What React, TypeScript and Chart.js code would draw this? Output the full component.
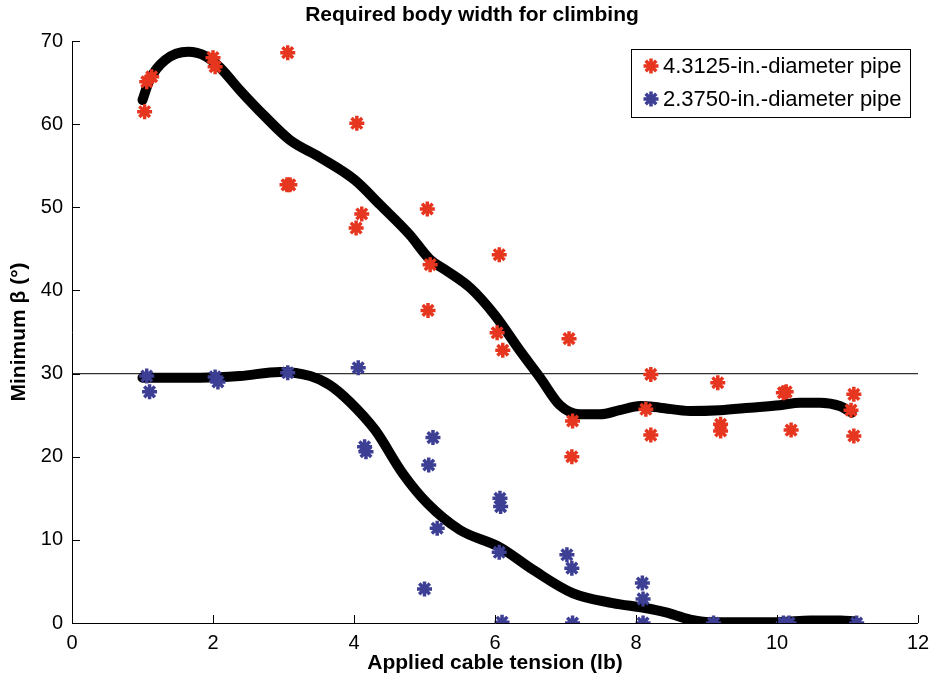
import React, { useEffect, useRef } from "react";
import { Chart, registerables } from "chart.js";

Chart.register(...registerables);

const chartTitle = "Required body width for climbing";
const xTitle = "Applied cable tension (lb)";
const yTitle = "Minimum β (°)";
const legendLabels = ["4.3125-in.-diameter pipe", "2.3750-in.-diameter pipe"];
const xTicks = [0, 2, 4, 6, 8, 10, 12];
const yTicks = [0, 10, 20, 30, 40, 50, 60, 70];
const thresholdY = 30;

const redX = [1.03, 1.06, 1.13, 2.0, 2.03, 3.06, 3.05, 3.09, 4.04, 4.03, 4.11, 5.04, 5.08, 5.05, 6.06, 6.03, 6.11, 7.05, 7.1, 7.09, 8.21, 8.14, 8.21, 9.16, 9.2, 9.2, 10.09, 10.13, 10.2, 11.09, 11.05, 11.09];
const redY = [61.5, 65.1, 65.7, 68.0, 66.9, 68.6, 52.7, 52.7, 60.1, 47.5, 49.2, 49.8, 43.1, 37.6, 44.3, 34.9, 32.8, 34.2, 24.3, 20.0, 29.9, 25.7, 22.6, 28.9, 23.9, 23.1, 27.7, 27.8, 23.2, 27.5, 25.6, 22.5];

const blueX = [1.06, 1.1, 2.03, 2.07, 3.06, 4.06, 4.17, 4.15, 5.12, 5.06, 5.18, 5.0, 6.07, 6.08, 6.06, 6.1, 7.02, 7.09, 7.1, 8.09, 8.1, 8.1, 9.1, 10.09, 10.17, 11.13];
const blueY = [29.7, 27.8, 29.6, 29.0, 30.1, 30.7, 20.6, 21.2, 22.3, 19.0, 11.4, 4.1, 15.0, 14.0, 8.5, 0.1, 8.2, 6.6, 0.0, 4.8, 2.9, 0.0, 0.0, 0.0, 0.0, 0.0];

const upperX = [1.0, 1.1, 1.32, 1.65, 1.89, 2.1, 2.38, 2.74, 3.09, 3.52, 4.01, 4.37, 4.79, 5.08, 5.29, 5.65, 6.0, 6.35, 6.64, 6.92, 7.2, 7.49, 7.77, 8.06, 8.34, 8.77, 9.19, 9.62, 10.04, 10.33, 10.61, 10.89, 11.06];
const upperY = [62.9, 65.3, 67.7, 68.7, 68.2, 66.8, 64.1, 60.9, 58.1, 56.0, 53.3, 50.3, 46.7, 43.7, 42.5, 40.3, 37.0, 32.8, 29.5, 26.2, 25.1, 25.1, 25.6, 26.1, 25.9, 25.5, 25.6, 25.9, 26.2, 26.5, 26.5, 26.1, 25.3];

const lowerX = [1.0, 1.82, 2.38, 2.95, 3.38, 3.66, 3.94, 4.3, 4.69, 5.04, 5.5, 6.07, 6.54, 7.1, 7.67, 8.13, 8.41, 8.77, 9.05, 10.04, 10.47, 10.9, 11.1];
const lowerY = [29.5, 29.5, 29.7, 30.2, 29.7, 28.6, 26.6, 23.2, 18.0, 14.4, 11.2, 9.1, 6.4, 3.6, 2.4, 1.8, 1.3, 0.4, 0.1, 0.1, 0.3, 0.3, 0.2];

const RED = "#e6361f";
const BLUE = "#3d3f95";
const FONT = '"Liberation Sans", Arial, Helvetica, sans-serif';

function zip(xs: number[], ys: number[]) {
  return xs.map((x, i) => ({ x, y: ys[i] }));
}

function drawStar(ctx: CanvasRenderingContext2D, x: number, y: number, r: number, color: string, w: number) {
  ctx.save();
  ctx.strokeStyle = color;
  ctx.lineWidth = w;
  ctx.beginPath();
  for (let k = 0; k < 4; k++) {
    const a = (k * Math.PI) / 4;
    ctx.moveTo(x - r * Math.cos(a), y - r * Math.sin(a));
    ctx.lineTo(x + r * Math.cos(a), y + r * Math.sin(a));
  }
  ctx.stroke();
  ctx.restore();
}

const decorPlugin = {
  id: "decor",
  afterDatasetsDraw(chart: any) {
    const { ctx, chartArea, scales } = chart;
    const xs = scales.x;
    const ys = scales.y;
    ctx.save();
    // axes
    ctx.strokeStyle = "#000";
    ctx.lineWidth = 1;
    ctx.beginPath();
    ctx.moveTo(chartArea.left + 0.5, chartArea.top);
    ctx.lineTo(chartArea.left + 0.5, chartArea.bottom + 0.5);
    ctx.lineTo(chartArea.right, chartArea.bottom + 0.5);
    ctx.stroke();
    // inward ticks
    ctx.beginPath();
    xTicks.forEach((t) => {
      const px = Math.round(xs.getPixelForValue(t)) + 0.5;
      ctx.moveTo(px, chartArea.bottom);
      ctx.lineTo(px, chartArea.bottom - 8);
    });
    yTicks.forEach((t) => {
      const py = Math.round(ys.getPixelForValue(t)) + 0.5;
      ctx.moveTo(chartArea.left, py);
      ctx.lineTo(chartArea.left + 8, py);
    });
    ctx.stroke();
    // title
    ctx.fillStyle = "#000";
    ctx.font = "bold 21px " + FONT;
    ctx.textAlign = "center";
    ctx.textBaseline = "middle";
    ctx.fillText(chartTitle, 472, 15);
    // legend
    ctx.fillStyle = "#fff";
    ctx.fillRect(631, 49, 279, 68);
    ctx.strokeStyle = "#000";
    ctx.strokeRect(631.5, 49.5, 279, 68);
    const colors = [RED, BLUE];
    legendLabels.forEach((lab, i) => {
      const cy = 66 + i * 33;
      drawStar(ctx, 651, cy, 7.5, colors[i], 3.5);
      ctx.fillStyle = "#000";
      ctx.font = "22px " + FONT;
      ctx.textAlign = "left";
      ctx.textBaseline = "middle";
      ctx.fillText(lab, 663, cy + 1);
    });
    ctx.restore();
  },
};

export default function App() {
  const canvasRef = useRef<HTMLCanvasElement | null>(null);

  useEffect(() => {
    if (!canvasRef.current) return;
    const chart = new Chart(canvasRef.current, {
      type: "scatter",
      data: {
        datasets: [
          {
            label: legendLabels[0],
            data: zip(redX, redY),
            pointStyle: "star",
            pointRadius: 7.5,
            pointBorderWidth: 3.5,
            borderColor: RED,
            backgroundColor: RED,
            order: 0,
          },
          {
            label: legendLabels[1],
            data: zip(blueX, blueY),
            pointStyle: "star",
            pointRadius: 7.5,
            pointBorderWidth: 3.5,
            borderColor: BLUE,
            backgroundColor: BLUE,
            order: 0,
          },
          {
            label: "fit-upper",
            data: zip(upperX, upperY),
            showLine: true,
            pointRadius: 0,
            borderColor: "#000",
            borderWidth: 10,
            borderCapStyle: "round",
            borderJoinStyle: "round",
            cubicInterpolationMode: "monotone",
            order: 1,
          } as any,
          {
            label: "fit-lower",
            data: zip(lowerX, lowerY),
            showLine: true,
            pointRadius: 0,
            borderColor: "#000",
            borderWidth: 10,
            borderCapStyle: "round",
            borderJoinStyle: "round",
            cubicInterpolationMode: "monotone",
            order: 1,
          } as any,
          {
            label: "threshold",
            data: [
              { x: 0, y: thresholdY },
              { x: 12, y: thresholdY },
            ],
            showLine: true,
            pointRadius: 0,
            borderColor: "#333",
            borderWidth: 1.2,
            order: 2,
          } as any,
        ],
      },
      options: {
        animation: false,
        responsive: true,
        maintainAspectRatio: false,
        layout: { padding: { top: 41, right: 15, left: 0, bottom: 0 } },
        plugins: {
          legend: { display: false },
          title: { display: false },
          tooltip: { enabled: false },
        },
        scales: {
          x: {
            type: "linear",
            min: 0,
            max: 12,
            grid: { display: false },
            border: { display: false },
            afterBuildTicks: (s: any) => {
              s.ticks = xTicks.map((v) => ({ value: v }));
            },
            afterFit: (s: any) => {
              s.height = 54;
            },
            ticks: {
              padding: 0,
              color: "#000",
              font: { family: FONT, size: 20 },
            },
            title: {
              display: true,
              text: xTitle,
              color: "#000",
              font: { family: FONT, size: 21, weight: "bold" },
              padding: { top: 0, bottom: 1.5 },
            },
          },
          y: {
            type: "linear",
            min: 0,
            max: 70,
            grid: { display: false },
            border: { display: false },
            afterBuildTicks: (s: any) => {
              s.ticks = yTicks.map((v) => ({ value: v }));
            },
            afterFit: (s: any) => {
              s.width = 72;
            },
            ticks: {
              padding: 1,
              color: "#000",
              font: { family: FONT, size: 20 },
            },
            title: {
              display: true,
              text: yTitle,
              color: "#000",
              font: { family: FONT, size: 21, weight: "bold" },
              padding: { top: 6.5, bottom: 0 },
            },
          },
        },
      } as any,
      plugins: [decorPlugin],
    });
    return () => chart.destroy();
  }, []);

  return (
    <div style={{ position: "fixed", left: 0, top: 0, width: 933, height: 677, background: "#fff" }}>
      <canvas ref={canvasRef} />
    </div>
  );
}
